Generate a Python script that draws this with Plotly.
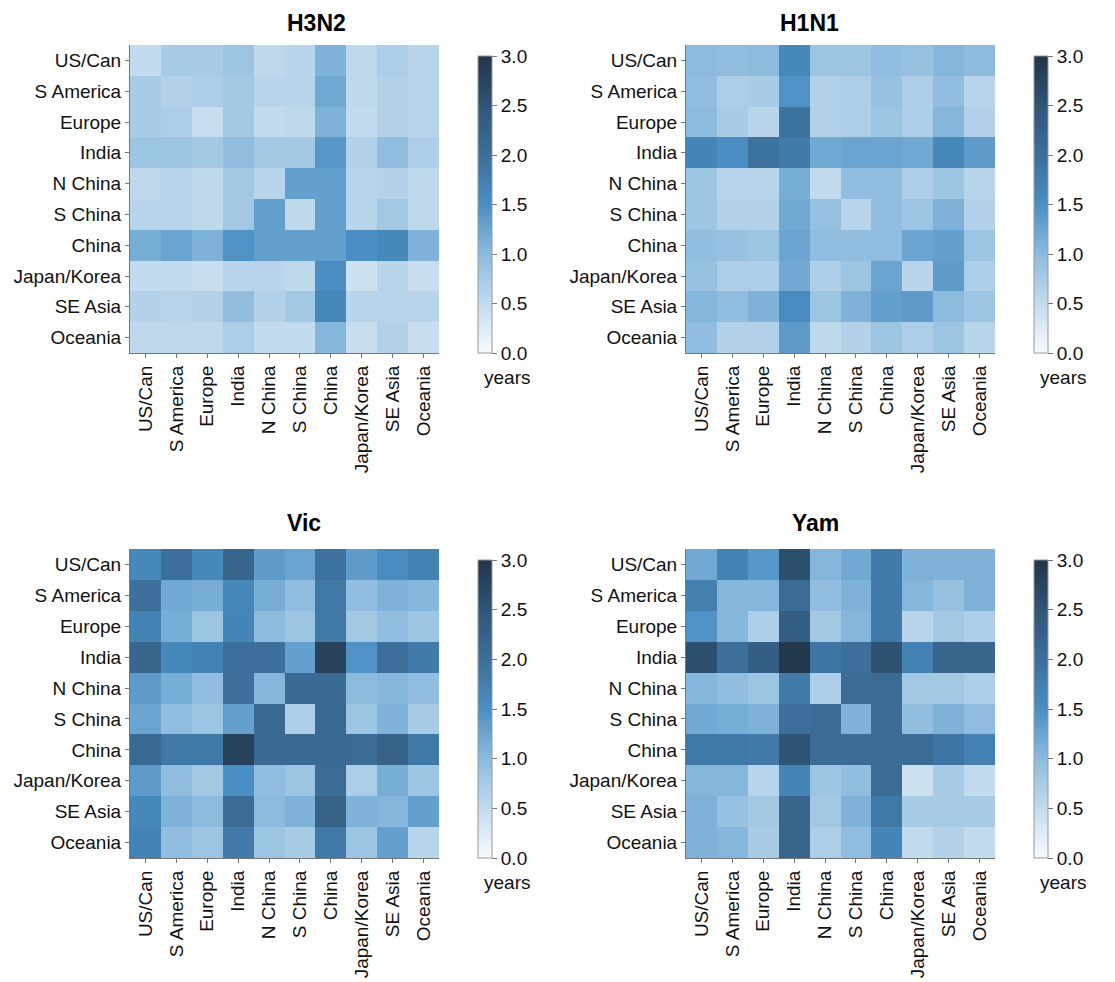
import plotly.graph_objects as go

regions = ["US/Can", "S America", "Europe", "India", "N China", "S China",
           "China", "Japan/Korea", "SE Asia", "Oceania"]
titles = ["H3N2", "H1N1", "Vic", "Yam"]

h3n2 = [
    [0.50, 0.75, 0.75, 0.85, 0.55, 0.60, 1.10, 0.55, 0.70, 0.60],
    [0.75, 0.65, 0.70, 0.80, 0.60, 0.60, 1.20, 0.55, 0.65, 0.60],
    [0.75, 0.70, 0.45, 0.80, 0.50, 0.55, 1.10, 0.50, 0.65, 0.60],
    [0.85, 0.85, 0.80, 0.95, 0.80, 0.80, 1.40, 0.65, 0.95, 0.70],
    [0.55, 0.60, 0.55, 0.80, 0.60, 1.30, 1.30, 0.60, 0.65, 0.55],
    [0.60, 0.60, 0.55, 0.80, 1.30, 0.55, 1.30, 0.60, 0.80, 0.55],
    [1.15, 1.25, 1.10, 1.45, 1.30, 1.30, 1.30, 1.50, 1.60, 1.10],
    [0.50, 0.50, 0.45, 0.60, 0.60, 0.55, 1.50, 0.40, 0.60, 0.45],
    [0.65, 0.60, 0.65, 0.95, 0.65, 0.80, 1.60, 0.60, 0.60, 0.60],
    [0.55, 0.55, 0.55, 0.70, 0.50, 0.50, 1.05, 0.45, 0.65, 0.45],
]
h1n1 = [
    [1.00, 0.95, 1.00, 1.60, 0.85, 0.85, 0.95, 0.90, 1.05, 1.00],
    [0.95, 0.70, 0.75, 1.45, 0.65, 0.70, 0.90, 0.70, 0.95, 0.60],
    [1.00, 0.75, 0.60, 1.95, 0.65, 0.70, 0.85, 0.70, 1.05, 0.65],
    [1.65, 1.50, 1.95, 1.80, 1.20, 1.25, 1.25, 1.20, 1.60, 1.35],
    [0.85, 0.60, 0.60, 1.15, 0.50, 0.95, 0.95, 0.70, 0.85, 0.60],
    [0.85, 0.65, 0.65, 1.20, 0.90, 0.60, 0.95, 0.85, 1.10, 0.65],
    [0.95, 0.90, 0.85, 1.25, 0.95, 0.95, 0.95, 1.25, 1.30, 0.85],
    [0.90, 0.70, 0.70, 1.20, 0.70, 0.85, 1.25, 0.60, 1.35, 0.70],
    [1.05, 0.95, 1.10, 1.55, 0.85, 1.10, 1.30, 1.35, 1.00, 0.85],
    [0.95, 0.65, 0.65, 1.35, 0.55, 0.65, 0.85, 0.70, 0.85, 0.60],
]
vic = [
    [1.60, 2.00, 1.60, 2.20, 1.35, 1.25, 1.95, 1.35, 1.55, 1.70],
    [2.00, 1.20, 1.15, 1.60, 1.15, 0.95, 1.85, 0.95, 1.10, 1.05],
    [1.70, 1.15, 0.85, 1.65, 1.00, 0.85, 1.85, 0.80, 0.95, 0.85],
    [2.20, 1.60, 1.70, 2.00, 2.00, 1.30, 2.80, 1.45, 2.00, 1.80],
    [1.35, 1.15, 0.95, 2.00, 1.05, 2.10, 2.10, 1.00, 1.05, 0.95],
    [1.25, 0.95, 0.85, 1.30, 2.10, 0.70, 2.10, 0.85, 1.10, 0.75],
    [2.10, 1.85, 1.85, 2.80, 2.10, 2.10, 2.10, 2.05, 2.25, 1.85],
    [1.35, 0.95, 0.80, 1.50, 0.95, 0.85, 2.05, 0.70, 1.15, 0.85],
    [1.60, 1.10, 1.00, 2.05, 1.00, 1.10, 2.25, 1.10, 1.05, 1.30],
    [1.70, 0.95, 0.85, 1.80, 0.85, 0.75, 1.85, 0.85, 1.30, 0.60],
]
yam = [
    [1.20, 1.70, 1.40, 2.60, 1.05, 1.20, 1.80, 1.10, 1.10, 1.10],
    [1.75, 1.05, 1.05, 2.05, 0.95, 1.10, 1.80, 1.05, 0.90, 1.10],
    [1.45, 1.05, 0.70, 2.30, 0.80, 1.05, 1.80, 0.60, 0.80, 0.70],
    [2.60, 2.00, 2.30, 2.95, 1.90, 2.00, 2.55, 1.70, 2.20, 2.20],
    [1.05, 0.95, 0.85, 1.80, 0.70, 2.05, 2.05, 0.80, 0.80, 0.70],
    [1.20, 1.15, 1.10, 2.00, 2.05, 1.10, 2.05, 0.95, 1.10, 0.95],
    [1.85, 1.85, 1.80, 2.50, 2.05, 2.05, 2.05, 2.05, 1.90, 1.70],
    [1.05, 1.05, 0.60, 1.65, 0.85, 0.95, 2.05, 0.40, 0.75, 0.50],
    [1.10, 0.90, 0.80, 2.20, 0.80, 1.10, 1.85, 0.75, 0.75, 0.75],
    [1.10, 1.05, 0.75, 2.20, 0.70, 0.95, 1.65, 0.50, 0.65, 0.50],
]
data = [h3n2, h1n1, vic, yam]

W, H = 1115, 982
OFF = 8  # page body margin
colorscale = [
    [0.0, "#f7fbff"],
    [0.1667, "#c3dbee"],
    [0.3333, "#8cbbde"],
    [0.5, "#4a8ec3"],
    [0.6667, "#3c6f9a"],
    [0.8333, "#2f5576"],
    [1.0, "#213548"],
]

# pixel boxes (page coords) for plot areas: (x0, x1, ytop, ybottom)
boxes = [(130, 439, 45, 353), (686, 995, 45, 353),
         (130, 439, 549, 858), (686, 995, 549, 858)]
cbar_x = [478, 1034]

FONT = "Liberation Sans, Arial, Helvetica, sans-serif"
FS = 19
fig = go.Figure()
for i, (z, t) in enumerate(zip(data, titles)):
    x0, x1, yt, yb = [v - OFF for v in boxes[i]]
    cx = cbar_x[i % 2] - OFF
    ax = "" if i == 0 else str(i + 1)
    fig.add_trace(go.Heatmap(
        z=z, x=regions, y=regions, zmin=0, zmax=3,
        colorscale=colorscale, xaxis="x" + ax, yaxis="y" + ax,
        colorbar=dict(
            x=cx / W, xanchor="left", xpad=0,
            y=1 - yb / H, yanchor="bottom", ypad=0,
            len=(yb - (yt + 11)) / H, lenmode="fraction",
            thickness=14, outlinewidth=1, outlinecolor="#999999",
            tickmode="array", tickvals=[0, 0.5, 1, 1.5, 2, 2.5, 3],
            ticktext=["0.0", "0.5", "1.0", "1.5", "2.0", "2.5", "3.0"],
            ticks="outside", ticklen=5, tickcolor="#777777",
            tickfont=dict(size=FS, color="#111111", family=FONT),
        ),
        hoverongaps=False,
    ))
    fig.update_layout(**{
        "xaxis" + ax: dict(domain=[x0 / W, x1 / W], anchor="y" + ax,
                            tickangle=-90, ticks="outside", ticklen=4,
                            tickcolor="#777777", showline=True,
                            linecolor="#777777", linewidth=1,
                            tickfont=dict(size=FS, color="#111111", family=FONT),
                            showgrid=False, zeroline=False),
        "yaxis" + ax: dict(domain=[1 - yb / H, 1 - yt / H], anchor="x" + ax,
                            autorange="reversed", ticks="outside", ticklen=4,
                            tickcolor="#777777", showline=True,
                            linecolor="#777777", linewidth=1,
                            tickfont=dict(size=FS, color="#111111", family=FONT),
                            showgrid=False, zeroline=False),
    })
    if i < 2:
        ty, tanchor = 1.0, "top"
    else:
        ty, tanchor = 1 - (yt - 26) / H, "middle"
    fig.add_annotation(text="<b>%s</b>" % t, x=(x0 + x1) / 2 / W,
                       y=ty, xref="paper", yref="paper",
                       showarrow=False, yanchor=tanchor,
                       font=dict(size=23, color="#000000", family=FONT))
    fig.add_annotation(text="years", x=(cx + 4) / W,
                       y=1 - (yb + 24) / H, xref="paper", yref="paper",
                       showarrow=False, xanchor="left", yanchor="middle",
                       font=dict(size=FS, color="#111111", family=FONT))

fig.update_layout(width=W, height=H, margin=dict(l=0, r=0, t=0, b=0),
                  paper_bgcolor="white", plot_bgcolor="white",
                  font=dict(family=FONT))
fig.write_html("out.html")
